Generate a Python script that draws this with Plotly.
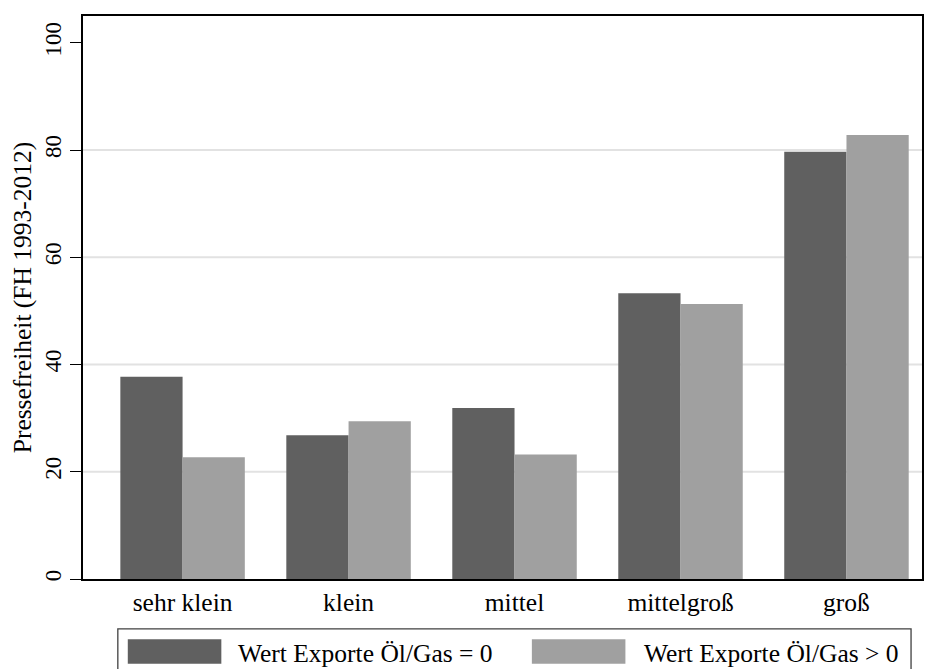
import plotly.graph_objects as go

categories = ["sehr klein", "klein", "mittel", "mittelgroß", "groß"]
series_names = ["Wert Exporte Öl/Gas = 0", "Wert Exporte Öl/Gas > 0"]
values_zero = [37.7, 26.8, 31.9, 53.3, 79.7]
values_pos = [22.7, 29.4, 23.2, 51.3, 82.8]
y_ticks = [0, 20, 40, 60, 80, 100]
grid_vals = [20, 40, 60, 80]
colors = ["#606060", "#a0a0a0"]

FONT = "Liberation Serif"
OFF = 8  # page body margin
W, H = 934 - OFF, 669 - OFF
# plot area in screen pixels: x 79..922, y 14..579
ML = 79 - OFF
MT = 14 - OFF
MR = W - (922 - OFF)
MB = H - (579 - OFF)
pw = W - ML - MR
ph = H - MT - MB

def px(x):
    return (x - OFF - ML) / pw

def py(y):
    return (H - MB - (y - OFF)) / ph

fig = go.Figure()
xpos = list(range(len(categories)))
for name, vals, col in zip(series_names, [values_zero, values_pos], colors):
    fig.add_trace(go.Bar(x=xpos, y=vals, name=name, marker=dict(color=col, line=dict(width=0)),
                         showlegend=False))

shapes = []
for g in grid_vals:
    shapes.append(dict(type="line", xref="paper", yref="y", x0=0, x1=1, y0=g, y1=g,
                       line=dict(color="#e2e2e2", width=2), layer="below"))

# legend box
shapes.append(dict(type="rect", xref="paper", yref="paper", x0=px(114), x1=px(911),
                   y0=py(629), y1=py(690), line=dict(color="#404040", width=1.3),
                   fillcolor="rgba(0,0,0,0)"))
sw = [(124, 218), (530, 624)]
tx = [233, 641]
annotations = []
for (a, b), t, name, col in zip(sw, tx, series_names, colors):
    shapes.append(dict(type="rect", xref="paper", yref="paper", x0=px(a), x1=px(b),
                       y0=py(639.5), y1=py(664), line=dict(width=0), fillcolor=col))
    annotations.append(dict(xref="paper", yref="paper", x=px(t), y=py(654), text=name,
                            showarrow=False, xanchor="left", yanchor="middle",
                            font=dict(family=FONT, size=25.5, color="black")))

fig.update_layout(
    width=W, height=H,
    margin=dict(l=ML, r=MR, t=MT, b=MB),
    paper_bgcolor="white", plot_bgcolor="white",
    barmode="group", bargap=0.25, bargroupgap=0,
    font=dict(family=FONT, size=25, color="black"),
    shapes=shapes, annotations=annotations,
    xaxis=dict(range=[-0.6, 4.455], tickvals=xpos, ticktext=categories, ticks="",
               showgrid=False, showline=True, linecolor="black", linewidth=1.5, mirror=True,
               tickfont=dict(family=FONT, size=25.5), zeroline=False),
    yaxis=dict(range=[0, 105], tickvals=y_ticks, ticks="outside", ticklen=11, tickwidth=1.3,
               tickcolor="black", tickangle=-90, showgrid=False, showline=True, linecolor="black",
               linewidth=1.5, mirror=True, zeroline=False,
               tickfont=dict(family=FONT, size=23),
               title=dict(text="Pressefreiheit (FH 1993-2012)", font=dict(family=FONT, size=25.5),
                          standoff=9)),
)

fig.write_html("out.html")
